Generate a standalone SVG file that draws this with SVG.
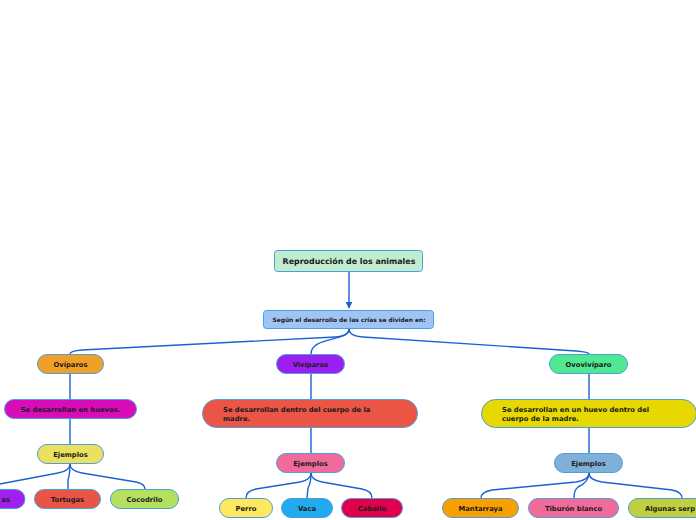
<svg xmlns="http://www.w3.org/2000/svg" width="696" height="520" viewBox="0 0 696 520">
<defs>
<style>
.n{stroke:#4a9fe0;stroke-width:1}
.t{font-family:"DejaVu Sans",Verdana,sans-serif;font-weight:bold;font-size:6.8px;fill:#1a1a1a;text-anchor:middle}
.l{text-anchor:start}
.c{fill:none;stroke:#1a62d4;stroke-width:1.4}
</style>
<marker id="ah" viewBox="0 0 10 10" refX="9" refY="5" markerWidth="5" markerHeight="5" orient="auto"><path d="M0,0 L10,5 L0,10 z" fill="#1a62d4"/></marker>
</defs>
<rect width="696" height="520" fill="#ffffff"/>
<g id="connectors">
<path class="c" d="M349,272 L349,308" marker-end="url(#ah)"/>
<path class="c" d="M349,329 Q349,336 335,337 L82,350 Q70,351 70,354"/>
<path class="c" d="M349,329 C349,342 311,336 311,354"/>
<path class="c" d="M349,329 Q349,336 363,337 L576,351 Q589,352 589,354"/>
<path class="c" d="M70,374 L70,399"/>
<path class="c" d="M70,419 L70,444"/>
<path class="c" d="M70,464 Q70,471 58,473 L5,483 Q0,484 -4,485"/>
<path class="c" d="M70,464 Q70,474 68,480 L68,489"/>
<path class="c" d="M70,464 Q70,471 82,473 L136,482 Q145,484 145,489"/>
<path class="c" d="M311,374 L311,399"/>
<path class="c" d="M311,428 L311,453"/>
<path class="c" d="M311,473 Q311,480 300,482 L256,489 Q246,491 246,498"/>
<path class="c" d="M311,473 Q311,483 308,488 L307,498"/>
<path class="c" d="M311,473 Q311,480 322,482 L362,489 Q372,491 372,498"/>
<path class="c" d="M589,374 L589,399"/>
<path class="c" d="M589,428 L589,453"/>
<path class="c" d="M589,473 Q589,480 576,482 L492,490 Q481,492 481,498"/>
<path class="c" d="M589,473 Q589,482 578,487 Q574,490 574,498"/>
<path class="c" d="M589,473 Q589,480 602,482 L672,490 Q682,492 682,498"/>
</g>
<g id="root"><rect class="n" x="274.5" y="250.5" width="148" height="21" rx="3" fill="#c0ecd0"/><text class="t" x="349" y="263.8" style="font-size:7.9px">Reproducción de los animales</text></g>
<g id="sub"><rect class="n" x="263.5" y="310.5" width="170" height="18" rx="3" fill="#a0c4f4"/><text class="t" x="349" y="321.7" style="font-size:5.9px">Según el desarrollo de las crías se dividen en:</text></g>
<g id="oviparos"><rect class="n" x="37.5" y="354.5" width="66" height="19" rx="9.5" fill="#f0a028"/><text class="t" x="70.5" y="366.6">Ovíparos</text></g>
<g id="huevos"><rect class="n" x="4.5" y="399.5" width="132" height="19" rx="9.5" fill="#d80cb8"/><text class="t" x="70.5" y="411.6">Se desarrollan en huevos.</text></g>
<g id="ej1"><rect class="n" x="37.5" y="444.5" width="66" height="19" rx="9.5" fill="#ece060"/><text class="t" x="70.5" y="456.6">Ejemplos</text></g>
<g id="ej1a"><rect class="n" x="-40" y="489.5" width="65" height="19" rx="9.5" fill="#a020f0"/><text class="t" x="10" y="501.6" style="text-anchor:end">as</text></g>
<g id="tortugas"><rect class="n" x="34.5" y="489.5" width="66" height="19" rx="9.5" fill="#e85545"/><text class="t" x="67.5" y="501.6">Tortugas</text></g>
<g id="cocodrilo"><rect class="n" x="110.5" y="489.5" width="68" height="19" rx="9.5" fill="#b4e060"/><text class="t" x="144.5" y="501.6">Cocodrilo</text></g>
<g id="viviparos"><rect class="n" x="276.5" y="354.5" width="68" height="19" rx="9.5" fill="#9b1ff0"/><text class="t" x="310.5" y="366.6">Vivíparos</text></g>
<g id="madre"><rect class="n" x="202.5" y="399.5" width="215" height="28" rx="14" fill="#ea5545"/><text class="t l" x="223" y="412">Se desarrollan dentro del cuerpo de la</text><text class="t l" x="223" y="421.3">madre.</text></g>
<g id="ej2"><rect class="n" x="276.5" y="453.5" width="68" height="19" rx="9.5" fill="#f06a9a"/><text class="t" x="310.5" y="465.6">Ejemplos</text></g>
<g id="perro"><rect class="n" x="219.5" y="498.5" width="53" height="19" rx="9.5" fill="#fee860"/><text class="t" x="246" y="510.6">Perro</text></g>
<g id="vaca"><rect class="n" x="281.5" y="498.5" width="51" height="19" rx="9.5" fill="#22aaee"/><text class="t" x="307" y="510.6">Vaca</text></g>
<g id="caballo"><rect class="n" x="341.5" y="498.5" width="61" height="19" rx="9.5" fill="#e0004c"/><text class="t" x="372" y="510.6">Caballo</text></g>
<g id="ovoviviparo"><rect class="n" x="549.5" y="354.5" width="78" height="19" rx="9.5" fill="#50e890"/><text class="t" x="588.5" y="366.6">Ovovivíparo</text></g>
<g id="huevomadre"><rect class="n" x="481.5" y="399.5" width="215" height="28" rx="14" fill="#e6d800"/><text class="t l" x="502" y="412">Se desarrollan en un huevo dentro del</text><text class="t l" x="502" y="421.3">cuerpo de la madre.</text></g>
<g id="ej3"><rect class="n" x="554.5" y="453.5" width="68" height="19" rx="9.5" fill="#80b0d8"/><text class="t" x="588.5" y="465.6">Ejemplos</text></g>
<g id="mantarraya"><rect class="n" x="442.5" y="498.5" width="76" height="19" rx="9.5" fill="#f8a000"/><text class="t" x="480.5" y="510.6">Mantarraya</text></g>
<g id="tiburon"><rect class="n" x="528.5" y="498.5" width="90" height="19" rx="9.5" fill="#f06a9a"/><text class="t" x="573.5" y="510.6">Tiburón blanco</text></g>
<g id="algunas"><rect class="n" x="628.5" y="498.5" width="90" height="19" rx="9.5" fill="#c0d040"/><text class="t l" x="645" y="510.6">Algunas serp</text></g>
</svg>
